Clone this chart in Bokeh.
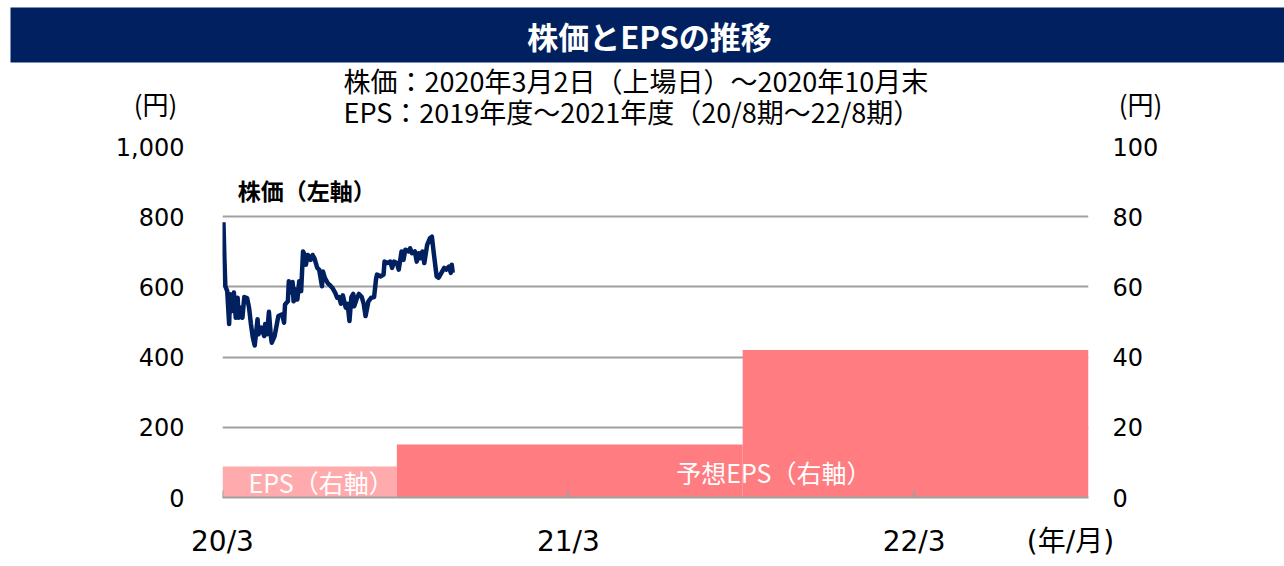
import pandas as pd
from bokeh.plotting import figure
from bokeh.models import (Range1d, LinearAxis, FixedTicker, Label, BoxAnnotation,
                          ColumnDataSource, NumeralTickFormatter)
from bokeh.embed import file_html
from bokeh.resources import INLINE

# ---------------- data ----------------
title_text = "株価とEPSの推移"
subtitle_lines = ["株価：2020年3月2日（上場日）～2020年10月末",
                  "EPS：2019年度～2021年度（20/8期～22/8期）"]

price_dates = [
    "2020-03-02", "2020-03-03", "2020-03-04", "2020-03-06", "2020-03-08", "2020-03-09", "2020-03-11",
    "2020-03-13", "2020-03-15", "2020-03-17", "2020-03-18", "2020-03-20", "2020-03-22", "2020-03-24",
    "2020-03-27", "2020-03-29", "2020-03-31",
    "2020-04-02", "2020-04-04", "2020-04-07", "2020-04-08", "2020-04-11", "2020-04-14", "2020-04-15",
    "2020-04-17", "2020-04-19", "2020-04-21", "2020-04-22", "2020-04-25", "2020-04-28", "2020-04-29",
    "2020-05-03", "2020-05-05", "2020-05-06", "2020-05-09", "2020-05-10", "2020-05-12", "2020-05-14",
    "2020-05-15", "2020-05-17", "2020-05-19", "2020-05-21", "2020-05-23", "2020-05-25", "2020-05-27",
    "2020-05-28", "2020-05-30",
    "2020-06-02", "2020-06-04", "2020-06-06", "2020-06-09", "2020-06-11", "2020-06-14", "2020-06-15",
    "2020-06-17", "2020-06-20", "2020-06-22", "2020-06-25", "2020-06-28", "2020-06-30",
    "2020-07-02", "2020-07-04", "2020-07-06", "2020-07-09", "2020-07-11", "2020-07-13", "2020-07-15",
    "2020-07-17", "2020-07-18", "2020-07-21", "2020-07-23", "2020-07-26", "2020-07-28", "2020-07-30",
    "2020-08-01", "2020-08-02", "2020-08-05", "2020-08-08", "2020-08-10", "2020-08-11", "2020-08-15",
    "2020-08-18", "2020-08-19", "2020-08-22", "2020-08-25", "2020-08-27", "2020-08-29",
    "2020-09-01", "2020-09-03", "2020-09-06", "2020-09-08", "2020-09-10", "2020-09-13", "2020-09-15",
    "2020-09-17", "2020-09-20", "2020-09-22", "2020-09-24", "2020-09-26", "2020-09-28", "2020-09-30",
    "2020-10-03", "2020-10-06", "2020-10-08", "2020-10-10", "2020-10-13", "2020-10-15", "2020-10-18",
    "2020-10-21", "2020-10-23", "2020-10-26", "2020-10-28", "2020-10-29", "2020-10-30",
]
price_values = [
    784, 682, 602, 588, 494, 579, 531, 584, 512, 569, 512, 541, 512, 571, 568, 541, 494,
    456, 433, 508, 465, 484, 460, 494, 465, 529, 460, 441, 460, 503, 517,
    522, 498, 550, 559, 616, 584, 614, 559, 593, 564, 616, 588, 701, 691, 663, 691,
    677, 691, 682, 654, 649, 602, 644, 626, 611, 606, 597, 583, 569,
    571, 552, 576, 541, 552, 503, 571, 580, 545, 569, 580, 571, 552, 517,
    545, 559, 569, 571, 621, 635, 630, 635, 672, 668, 672, 654, 672,
    668, 649, 701, 677, 706, 701, 710, 696, 701, 672, 696, 682, 701, 668,
    720, 739, 743, 696, 630, 626, 640, 654, 649, 658, 640, 663, 640,
]

eps_start = ["2020-03-01", "2020-09-01", "2021-09-01"]
eps_end = ["2020-09-01", "2021-09-01", "2022-09-01"]
eps_values = [8.8, 15.1, 42.0]
eps_colors = ["#FFAAAD", "#FF7C80", "#FF7C80"]

eps_label_texts = ["EPS（右軸）", "予想EPS（右軸）"]
eps_label_dates = ["2020-06-13", "2021-10-04"]
eps_label_levels = [4.3, 7.4]

price_label_text = "株価（左軸）"
price_label_date = "2020-03-17"
price_label_level = 876

x_start, x_end = "2020-03-01", "2022-09-01"
x_ticks = ["2020-03-01", "2021-03-01", "2022-03-01"]
x_tick_labels = ["20/3", "21/3", "22/3"]
x_unit_date = "2022-08-13"
x_unit_label = "(年/月)"
left_ticks = [0, 200, 400, 600, 800, 1000]
right_ticks = [0, 20, 40, 60, 80, 100]
grid_ticks = [200, 400, 600, 800, 1000]
y_unit_label = "(円)"

# ---------------- styles / layout constants ----------------
NAVY = "#002060"
GRID = "#A0A0A0"
JP = "Noto Sans CJK JP"
NUM = "DejaVu Sans"
W, H_HEAD, H_MAIN = 1284, 132, 434


def ms(d):
    return int(pd.Timestamp(d).value // 10**6)


# ---------------- header (pixel coordinates, y downward) ----------------
head = figure(width=W, height=H_HEAD, x_range=Range1d(0, W), y_range=Range1d(H_HEAD, 0),
              x_axis_type=None, y_axis_type=None, toolbar_location=None,
              output_backend="svg", min_border=0,
              background_fill_color="white", border_fill_color="white", outline_line_color=None)
head.add_layout(BoxAnnotation(left=10, right=W, top=7, bottom=62, fill_color=NAVY,
                              fill_alpha=1.0, line_color=None))
head.add_layout(Label(x=649, y=35, text=title_text, text_align="center", text_baseline="middle",
                      text_color="white", text_font=JP, text_font_style="bold",
                      text_font_size="31px"))
for txt, yy in zip(subtitle_lines, [80, 111]):
    head.add_layout(Label(x=343, y=yy, text=txt, text_align="left", text_baseline="middle",
                          text_color="black", text_font=JP, text_font_size="27px"))
for xx in [155, 1140]:
    head.add_layout(Label(x=xx, y=103, text=y_unit_label, text_align="center",
                          text_baseline="middle", text_color="black", text_font=JP,
                          text_font_size="26px"))

# ---------------- main chart ----------------
p = figure(width=W, height=H_MAIN, x_axis_type="datetime",
           x_range=Range1d(ms(x_start), ms(x_end)), y_range=Range1d(0, 1000),
           toolbar_location=None, output_backend="svg",
           min_border_left=222, min_border_right=196, min_border_top=14, min_border_bottom=69,
           outline_line_color=None, background_fill_color="white", border_fill_color="white")
p.extra_y_ranges = {"eps": Range1d(0, 100)}

# grid
p.xgrid.visible = False
p.ygrid.ticker = FixedTicker(ticks=grid_ticks)
p.ygrid.grid_line_color = GRID
p.ygrid.grid_line_width = 2

# left axis
p.yaxis.ticker = FixedTicker(ticks=left_ticks)
p.yaxis.formatter = NumeralTickFormatter(format="0,0")
p.yaxis.axis_line_color = None
p.yaxis.major_tick_line_color = None
p.yaxis.minor_tick_line_color = None
p.yaxis.major_label_text_font = NUM
p.yaxis.major_label_text_font_size = "24px"
p.yaxis.major_label_text_color = "black"
p.yaxis.major_label_standoff = 32

# right axis
ax_r = LinearAxis(y_range_name="eps", ticker=FixedTicker(ticks=right_ticks))
ax_r.axis_line_color = None
ax_r.major_tick_line_color = None
ax_r.minor_tick_line_color = None
ax_r.major_label_text_font = NUM
ax_r.major_label_text_font_size = "24px"
ax_r.major_label_text_color = "black"
ax_r.major_label_standoff = 18
p.add_layout(ax_r, "right")

# bottom axis (tick labels incl. the unit label; tick marks drawn as segments)
xticks_ms = [ms(d) for d in x_ticks]
overrides = {t: lab for t, lab in zip(xticks_ms, x_tick_labels)}
overrides[ms(x_unit_date)] = x_unit_label
p.xaxis.ticker = FixedTicker(ticks=xticks_ms + [ms(x_unit_date)])
p.xaxis.major_label_overrides = overrides
p.xaxis.axis_line_color = GRID
p.xaxis.axis_line_width = 2
p.xaxis.major_tick_line_color = None
p.xaxis.minor_tick_line_color = None
p.xaxis.major_label_text_font = NUM + ", " + JP
p.xaxis.major_label_text_font_size = "28px"
p.xaxis.major_label_text_color = "black"
p.xaxis.major_label_standoff = 21

# EPS bars (right axis)
eps_src = ColumnDataSource(dict(left=[ms(d) for d in eps_start], right=[ms(d) for d in eps_end],
                                top=eps_values, bottom=[0] * len(eps_values), color=eps_colors))
p.quad(left="left", right="right", top="top", bottom="bottom", fill_color="color",
       line_color=None, source=eps_src, y_range_name="eps")

# inward tick marks on the date axis
p.segment(x0=xticks_ms, y0=[0] * len(xticks_ms), x1=xticks_ms, y1=[20] * len(xticks_ms),
          line_color=GRID, line_width=2)

# price line (left axis)
price_src = ColumnDataSource(dict(x=[ms(d) for d in price_dates], y=price_values))
p.line("x", "y", source=price_src, line_color=NAVY, line_width=4.5, line_join="round")

# labels
for t, d, lv in zip(eps_label_texts, eps_label_dates, eps_label_levels):
    p.add_layout(Label(x=ms(d), y=lv, y_range_name="eps", text=t, text_align="center",
                       text_baseline="middle", text_color="white", text_font=JP,
                       text_font_size="25px"))

p.add_layout(Label(x=ms(price_label_date), y=price_label_level, text=price_label_text,
                   text_align="left", text_baseline="middle", text_color="black",
                   text_font=JP, text_font_style="bold", text_font_size="23px"))

open("out.html", "w").write(file_html([head, p], INLINE))
